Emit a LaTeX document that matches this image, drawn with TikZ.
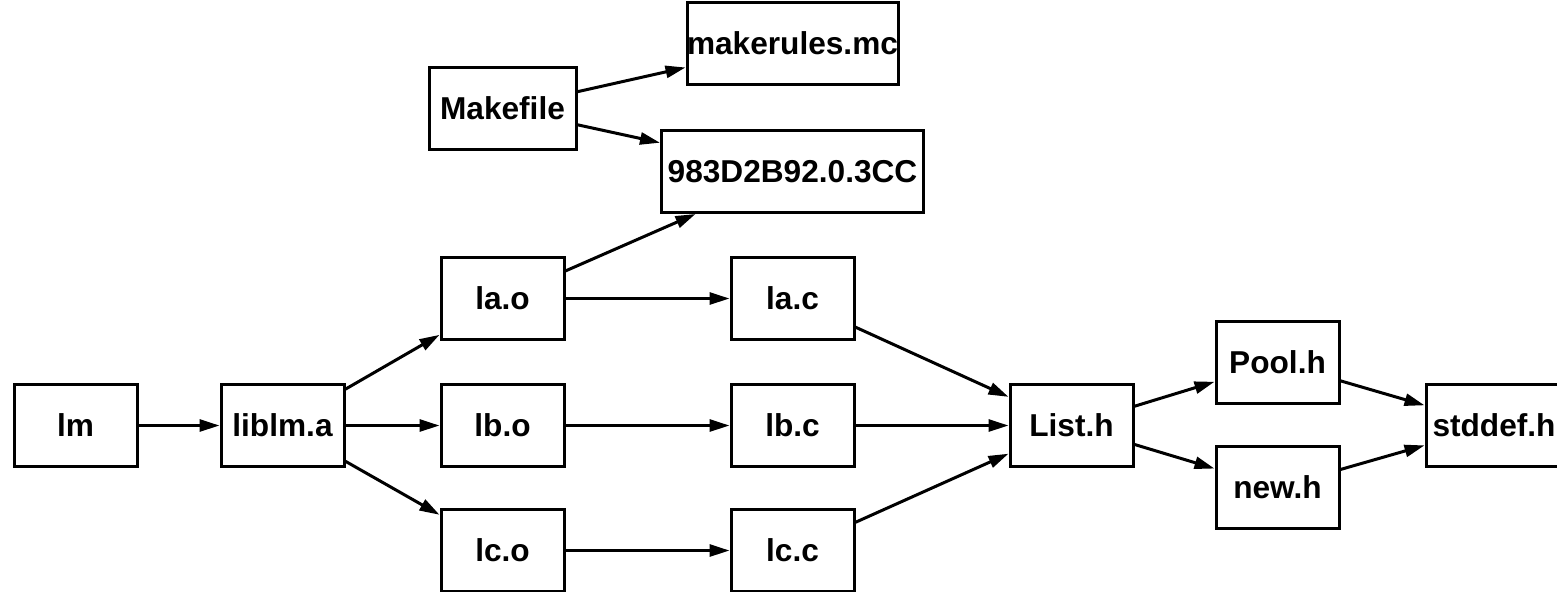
\documentclass[tikz,border=0pt]{standalone}
\usepackage{fontspec}
\setmainfont{Liberation Sans}
\usetikzlibrary{arrows.meta,positioning}

\begin{document}
\begin{tikzpicture}[
    n/.style={draw, line width=0.03cm, inner sep=0pt, minimum width=1.23cm, minimum height=0.82cm, font=\fontsize{9}{10}\selectfont\bfseries, align=center},
    arr/.style={-{Triangle[length=0.2cm,width=0.12cm]}, line width=0.03cm}
  ]
    \useasboundingbox (0,0) rectangle (15.57,5.91);
    \node[n] (lm) at (0.755,1.655) {lm};
    \node[n, right=0.81cm of lm] (liblm) {liblm.a};
    \node[n, right=0.94cm of liblm] (lbo) {lb.o};
    \node[n, above=0.42cm of lbo] (lao) {la.o};
    \node[n, below=0.4cm of lbo] (lco) {lc.o};
    \node[n, minimum width=1.47cm, above=1.05cm of lao] (make) {Makefile};
    \node[n, right=1.64cm of lbo] (lbc) {lb.c};
    \node[n, above=0.42cm of lbc] (lac) {la.c};
    \node[n, below=0.4cm of lbc] (lcc) {lc.c};
    \node[n, minimum width=2.62cm, above=0.42cm of lac] (id) {983D2B92.0.3CC};
    \node[n, minimum width=2.09cm, above=0.43cm of id] (rules) {makerules.mc};
    \node[n, right=1.53cm of lbc] (list) {List.h};
    \node[n, right=0.8cm of list, yshift=0.63cm] (pool) {Pool.h};
    \node[n, right=0.8cm of list, yshift=-0.62cm] (new) {new.h};
    \node[n, minimum width=1.36cm, right=2.9cm of list] (stddef) {stddef.h};
    \draw[arr] (lm) -- (liblm);
    \draw[arr] (liblm) -- (lao);
    \draw[arr] (liblm) -- (lbo);
    \draw[arr] (liblm) -- (lco);
    \draw[arr] (make) -- (rules);
    \draw[arr] (make) -- (id);
    \draw[arr] (lao) -- (id);
    \draw[arr] (lao) -- (lac);
    \draw[arr] (lbo) -- (lbc);
    \draw[arr] (lco) -- (lcc);
    \draw[arr] (lac) -- (list);
    \draw[arr] (lbc) -- (list);
    \draw[arr] (lcc) -- (list);
    \draw[arr] (list) -- (pool);
    \draw[arr] (list) -- (new);
    \draw[arr] (pool) -- (stddef);
    \draw[arr] (new) -- (stddef);
  \end{tikzpicture}
\end{document}
